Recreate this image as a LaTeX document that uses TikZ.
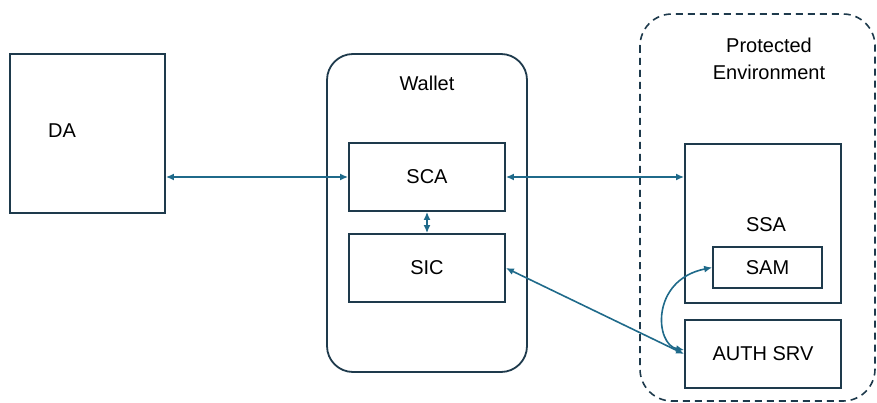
\documentclass[tikz,border=0pt]{standalone}
\usepackage{fontspec}
\setmainfont{Liberation Sans}
\usetikzlibrary{arrows.meta}
\definecolor{boxc}{HTML}{1E3A4C}
\definecolor{arrc}{HTML}{1F6A8A}
\begin{document}
\begin{tikzpicture}[x=1pt,y=-1pt,
  box/.style={draw=boxc,line width=1.8pt,fill=white},
  lbl/.style={font=\fontsize{20}{27}\selectfont,text=black,inner sep=0pt},
  conn/.style={draw=arrc,line width=1.6pt,{Latex[length=8pt,width=7pt]}-{Latex[length=8pt,width=7pt]}}]
\useasboundingbox (0,0) rectangle (877,403);
% containers
\draw[box,rounded corners=26pt] (327,54) rectangle (527,372);
\node[lbl] (wallet) at (427,83) {Wallet};
\draw[draw=boxc,line width=1.6pt,dash pattern=on 7pt off 5pt,rounded corners=32pt] (640,14) rectangle (875,401);
\node[lbl,align=center] (pe) at (769,59) {Protected\\Environment};
% boxes
\node[box,minimum width=155pt,minimum height=159pt,inner sep=0pt] (da) at (87.5,133.5) {};
\node[lbl] (datext) at (62,131) {DA};
\node[box,minimum width=156pt,minimum height=68pt,lbl] (sca) at (427,177) {SCA};
\node[box,minimum width=156pt,minimum height=68pt,lbl] (sic) at (427,268) {SIC};
\node[box,minimum width=156pt,minimum height=159pt,inner sep=0pt] (ssa) at (763,223.5) {};
\node[lbl] (ssatext) at (766,225) {SSA};
\node[box,minimum width=109pt,minimum height=41pt,lbl] (sam) at (767.5,267.5) {SAM};
\node[box,minimum width=156pt,minimum height=68pt,lbl] (auth) at (763,354) {AUTH SRV};
% connectors
\draw[conn] (da.east |- sca.west) -- (sca.west);
\draw[conn] (sca.east) -- (sca.east -| ssa.west);
\draw[conn] (sca.south) -- (sic.north);
\draw[conn] (sic.east) -- (auth.west);
\draw[conn] ([yshift=4pt]auth.west) .. controls (655,345) and (650,280) .. (sam.west);
\end{tikzpicture}
\end{document}
